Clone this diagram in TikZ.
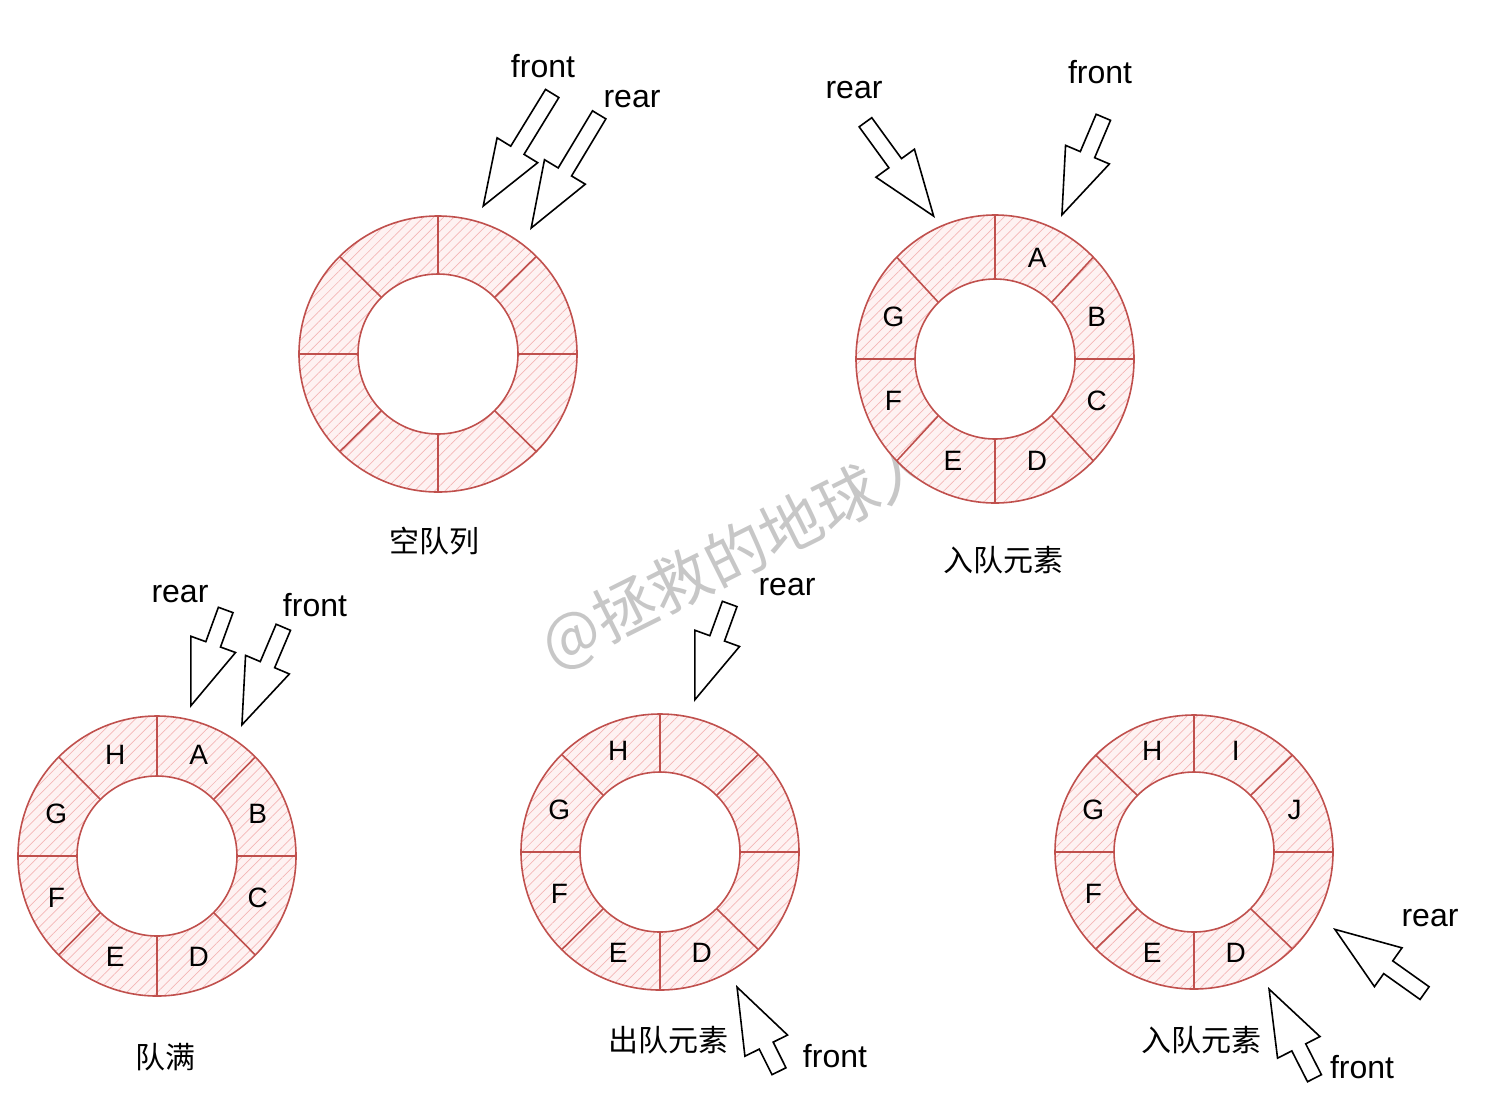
\documentclass[tikz,border=0pt]{standalone}
\usepackage{fontspec}
\setmainfont{Liberation Sans}
\newfontfamily\cjk{Noto Sans CJK SC}
\usetikzlibrary{shapes.arrows, patterns.meta, positioning}
\definecolor{ringred}{RGB}{192,80,77}
\definecolor{ringfill}{RGB}{254,242,242}
\definecolor{hatchred}{RGB}{244,182,182}

\begin{document}
\begin{tikzpicture}[x=0.5pt, y=-0.5pt,
		cell/.style={font=\fontsize{14}{14}\selectfont, inner sep=0pt},
		ptrtxt/.style={font=\fontsize{16}{16}\selectfont, inner sep=0pt},
		title/.style={font=\cjk\fontsize{15}{15}\selectfont, inner sep=0pt},
		ptr/.style={draw=black, fill=white, thick, single arrow, shape border rotate=0,
		            inner xsep=0pt, inner ysep=3.5pt, single arrow head extend=8pt,
		            single arrow tip angle=40, anchor=tip}]
		\useasboundingbox (0,0) rectangle (1492,1109);
		% watermark
		\node[font=\cjk\fontsize{31}{31}\selectfont, text=black!22, rotate=26.5] (mark) at (738,555) {@拯救的地球人};
		% the five rings
		\foreach \id/\cx/\cy/\ry in {q1/438/354/138, q2/995/359/144, q3/157/856/140, q4/660/852/138, q5/1194/852/137} {
			\coordinate (\id) at (\cx,\cy);
			\begin{scope}[shift={(\cx,\cy)}]
				\fill[ringfill, even odd rule] (0,0) ellipse[x radius=139, y radius=\ry] (0,0) circle[radius=80];
				\fill[pattern={Lines[angle=45, distance=3.6pt, line width=0.35pt]}, pattern color=hatchred, even odd rule]
					(0,0) ellipse[x radius=139, y radius=\ry] (0,0) circle[radius=80];
				\draw[ringred, thick] (0,0) ellipse[x radius=139, y radius=\ry] (0,0) circle[radius=80];
				\foreach \a in {0,45,...,315}
					\draw[ringred, thick] (\a:80) -- ({139*cos(\a)},{\ry*sin(\a)});
			\end{scope}
		}
		% cells
		\foreach \lab/\ang in {A/-67.5, B/-22.5, C/22.5, D/67.5, E/112.5, F/157.5, G/202.5}
			\node[cell] (q2\lab) at ([shift={(\ang:110)}]q2) {\lab};
		\foreach \lab/\ang in {A/-67.5, B/-22.5, C/22.5, D/67.5, E/112.5, F/157.5, G/202.5, H/247.5}
			\node[cell] (q3\lab) at ([shift={(\ang:109)}]q3) {\lab};
		\foreach \lab/\ang in {D/67.5, E/112.5, F/157.5, G/202.5, H/247.5}
			\node[cell] (q4\lab) at ([shift={(\ang:109)}]q4) {\lab};
		\foreach \lab/\ang in {I/-67.5, J/-22.5, D/67.5, E/112.5, F/157.5, G/202.5, H/247.5}
			\node[cell] (q5\lab) at ([shift={(\ang:109)}]q5) {\lab};
		% titles
		\node[title] (t1) at (434,541) {空队列};
		\node[title] (t2) at (1003,560) {入队元素};
		\node[title] (t3) at (165,1057) {队满};
		\node[title] (t4) at (668,1040) {出队元素};
		\node[title] (t5) at (1201,1040) {入队元素};
		% front / rear pointers
		\node[ptr, minimum height=66pt, rotate=238.5] (f1) at (482,208) {};
		\node[ptr, minimum height=66pt, rotate=239] (r1) at (530,230) {};
		\node[ptrtxt] (f1t) at (543,66) {front};
		\node[ptrtxt] (r1t) at (632,99) {rear};
		\node[ptr, minimum height=58pt, rotate=-54] (r2) at (935,218) {};
		\node[ptr, minimum height=53pt, rotate=-113] (f2) at (1061,217) {};
		\node[ptrtxt] (r2t) at (854,90) {rear};
		\node[ptrtxt] (f2t) at (1100,72) {front};
		\node[ptr, minimum height=51pt, rotate=-110] (r3) at (190,708) {};
		\node[ptr, minimum height=53pt, rotate=-113] (f3) at (241,727) {};
		\node[ptrtxt] (r3t) at (180,594) {rear};
		\node[ptrtxt] (f3t) at (315,605) {front};
		\node[ptr, minimum height=51pt, rotate=-110] (r4) at (694,702) {};
		\node[ptr, minimum height=47pt, rotate=116.5] (f4) at (736,985) {};
		\node[ptrtxt] (r4t) at (787,587) {rear};
		\node[ptrtxt] (f4t) at (835,1056) {front};
		\node[ptr, minimum height=55pt, rotate=144.6] (r5) at (1333,928) {};
		\node[ptr, minimum height=50pt, rotate=117] (f5) at (1268,987) {};
		\node[ptrtxt] (r5t) at (1430,918) {rear};
		\node[ptrtxt] (f5t) at (1362,1067) {front};
	\end{tikzpicture}
\end{document}
